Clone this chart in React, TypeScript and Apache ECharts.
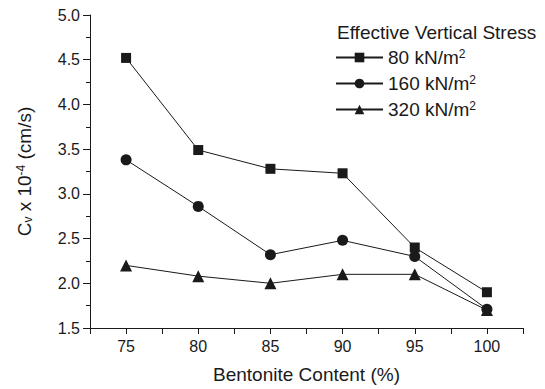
import React, { useEffect, useRef } from "react";
import * as echarts from "echarts";

const bentonite = [75, 80, 85, 90, 95, 100];
const cv80 = [4.52, 3.49, 3.28, 3.23, 2.4, 1.9];
const cv160 = [3.38, 2.86, 2.32, 2.48, 2.3, 1.71];
const cv320 = [2.2, 2.08, 2.0, 2.1, 2.1, 1.7];
const seriesNames = ["80 kN/m²", "160 kN/m²", "320 kN/m²"];
const legendTitle = "Effective Vertical Stress";
const xName = "Bentonite Content (%)";

const FONT = "'Liberation Sans', Arial, Helvetica, sans-serif";
const INK = "#1a1a1a";

export default function App() {
  const ref = useRef<HTMLDivElement>(null);
  useEffect(() => {
    if (!ref.current) return;
    const chart = echarts.init(ref.current, undefined, { renderer: "svg" });
    const pair = (vals: number[]) => bentonite.map((x, i) => [x, vals[i]]);
    const mk = (name: string, vals: number[], symbol: string, size: number) => ({
      type: "line",
      name,
      data: pair(vals),
      symbol,
      symbolSize: size,
      showSymbol: true,
      lineStyle: { color: INK, width: 1 },
      itemStyle: { color: INK },
      z: 3,
    });
    chart.setOption({
      animation: false,
      textStyle: { fontFamily: FONT, color: INK },
      grid: { left: 90, right: 22, top: 15, bottom: 56, containLabel: false },
      title: {
        text: legendTitle,
        left: 337,
        top: 23,
        padding: 0,
        textStyle: { fontFamily: FONT, fontSize: 19, fontWeight: "normal", color: INK },
      },
      legend: {
        orient: "vertical",
        left: 335,
        top: 48,
        padding: 0,
        itemGap: 7,
        itemWidth: 47,
        itemHeight: 12,
        data: seriesNames,
        formatter: (n: string) => n.replace("²", "{sup|2}"),
        textStyle: {
          fontFamily: FONT,
          fontSize: 19,
          color: INK,
          rich: {
            sup: { fontSize: 12, verticalAlign: "top", fontFamily: FONT, color: INK },
          },
        },
      },
      xAxis: {
        type: "value",
        min: 72.5,
        max: 102.5,
        interval: 2.5,
        name: xName,
        nameLocation: "middle",
        nameGap: 37,
        nameTextStyle: { fontSize: 19, fontFamily: FONT, color: INK },
        axisLine: { show: true, onZero: false, lineStyle: { color: INK, width: 1 } },
        axisTick: { show: true, inside: false, length: 6, lineStyle: { color: INK } },
        axisLabel: {
          fontSize: 16,
          fontFamily: FONT,
          color: INK,
          margin: 10,
          showMinLabel: true,
          showMaxLabel: true,
          formatter: (v: number) => (v % 5 === 0 && v >= 75 && v <= 100 ? String(v) : ""),
        },
        splitLine: { show: false },
      },
      yAxis: {
        type: "value",
        min: 1.5,
        max: 5.0,
        interval: 0.5,
        name: "C{sub|v} x 10{sup|-4} (cm/s)",
        nameLocation: "middle",
        nameRotate: 90,
        nameGap: 56,
        nameTextStyle: {
          fontSize: 19,
          fontFamily: FONT,
          color: INK,
          rich: {
            sub: { fontSize: 12, verticalAlign: "bottom", fontFamily: FONT, color: INK },
            sup: { fontSize: 12, verticalAlign: "top", fontFamily: FONT, color: INK },
          },
        },
        axisLine: { show: true, onZero: false, lineStyle: { color: INK, width: 1 } },
        axisTick: { show: true, inside: false, length: 7, lineStyle: { color: INK } },
        minorTick: { show: true, splitNumber: 2, length: 4, lineStyle: { color: INK } },
        axisLabel: {
          fontSize: 16,
          fontFamily: FONT,
          color: INK,
          margin: 10,
          formatter: (v: number) => v.toFixed(1),
        },
        splitLine: { show: false },
      },
      series: [
        mk(seriesNames[0], cv80, "rect", 10),
        mk(seriesNames[1], cv160, "circle", 11),
        mk(seriesNames[2], cv320, "triangle", 12),
      ],
    });
    return () => chart.dispose();
  }, []);
  return <div ref={ref} style={{ width: 545, height: 389, position: "absolute", left: 0, top: 0 }} />;
}
